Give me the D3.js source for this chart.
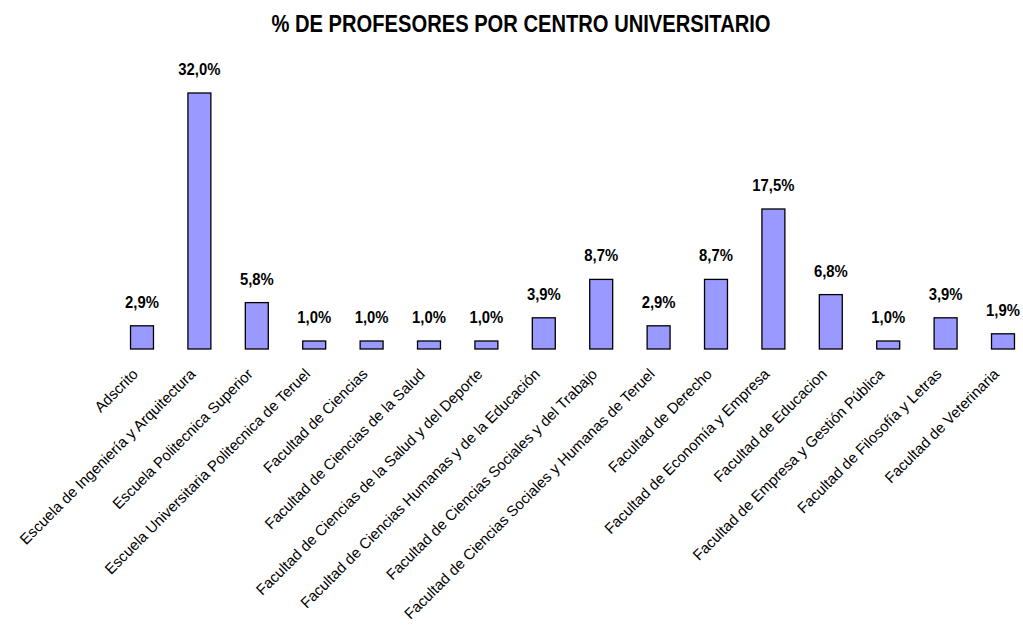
<!DOCTYPE html>
<meta charset="utf-8">
<style>
  body { margin: 0; background: #fff; }
  text { font-family: "Liberation Sans", Arial, sans-serif; }
</style>
<script src="https://d3js.org/d3.v7.min.js"></script>
<div id="chart"></div>
<script>
  // categories and values (% of professors)
  var centros = [
    "Adscrito",
    "Escuela de Ingeniería y Arquitectura",
    "Escuela Politecnica Superior",
    "Escuela Universitaria Politecnica de Teruel",
    "Facultad de Ciencias",
    "Facultad de Ciencias de la Salud",
    "Facultad de Ciencias de la Salud y del Deporte",
    "Facultad de Ciencias Humanas y de la Educación",
    "Facultad de Ciencias Sociales y del Trabajo",
    "Facultad de Ciencias Sociales y Humanas de Teruel",
    "Facultad de Derecho",
    "Facultad de Economía y Empresa",
    "Facultad de Educacion",
    "Facultad de Empresa y Gestión Pública",
    "Facultad de Filosofía y Letras",
    "Facultad de Veterinaria"
  ];
  var porcentajes = [2.9, 32.0, 5.8, 1.0, 1.0, 1.0, 1.0, 3.9, 8.7, 2.9, 8.7, 17.5, 6.8, 1.0, 3.9, 1.9];

  var width = 1023, height = 630;
  var baseline = 349;

  var svg = d3.select("#chart")
    .append("svg")
    .attr("width", width)
    .attr("height", height);

  // title (narrowed to look like Arial Narrow)
  svg.append("text")
    .attr("transform", "translate(521,32) scale(0.84,1)")
    .attr("text-anchor", "middle")
    .style("font-size", "24px")
    .style("font-weight", "bold")
    .text("% DE PROFESORES POR CENTRO UNIVERSITARIO");

  var x = d3.scaleBand()
    .domain(centros)
    .range([113.3, 1031.7])
    .paddingInner(0.6)
    .paddingOuter(0.3);

  var y = d3.scaleLinear()
    .domain([0, 32])
    .range([baseline, 93]);

  // bars
  svg.selectAll("rect.bar")
    .data(porcentajes)
    .enter()
    .append("rect")
    .attr("class", "bar")
    .attr("x", function (d, i) { return x(centros[i]); })
    .attr("y", function (d) { return y(d); })
    .attr("width", x.bandwidth())
    .attr("height", function (d) { return baseline - y(d); })
    .style("fill", "#9999ff")
    .style("stroke", "#000")
    .style("stroke-width", 1.3);

  // value labels
  svg.selectAll("text.val")
    .data(porcentajes)
    .enter()
    .append("text")
    .attr("class", "val")
    .attr("transform", function (d, i) {
      var cx = x(centros[i]) + x.bandwidth() / 2;
      return "translate(" + cx + "," + (y(d) - 18) + ") scale(0.9,1)";
    })
    .attr("text-anchor", "middle")
    .style("font-size", "16.5px")
    .style("font-weight", "bold")
    .text(function (d) { return d.toFixed(1).replace(".", ",") + "%"; });

  // category labels, rotated
  svg.selectAll("text.cat")
    .data(centros)
    .enter()
    .append("text")
    .attr("class", "cat")
    .attr("text-anchor", "end")
    .attr("transform", function (d) {
      var cx = x(d) + x.bandwidth() / 2 - 3;
      return "translate(" + cx + "," + (baseline + 26) + ") rotate(-45)";
    })
    .style("font-size", "15px")
    .text(function (d) { return d; });
</script>
